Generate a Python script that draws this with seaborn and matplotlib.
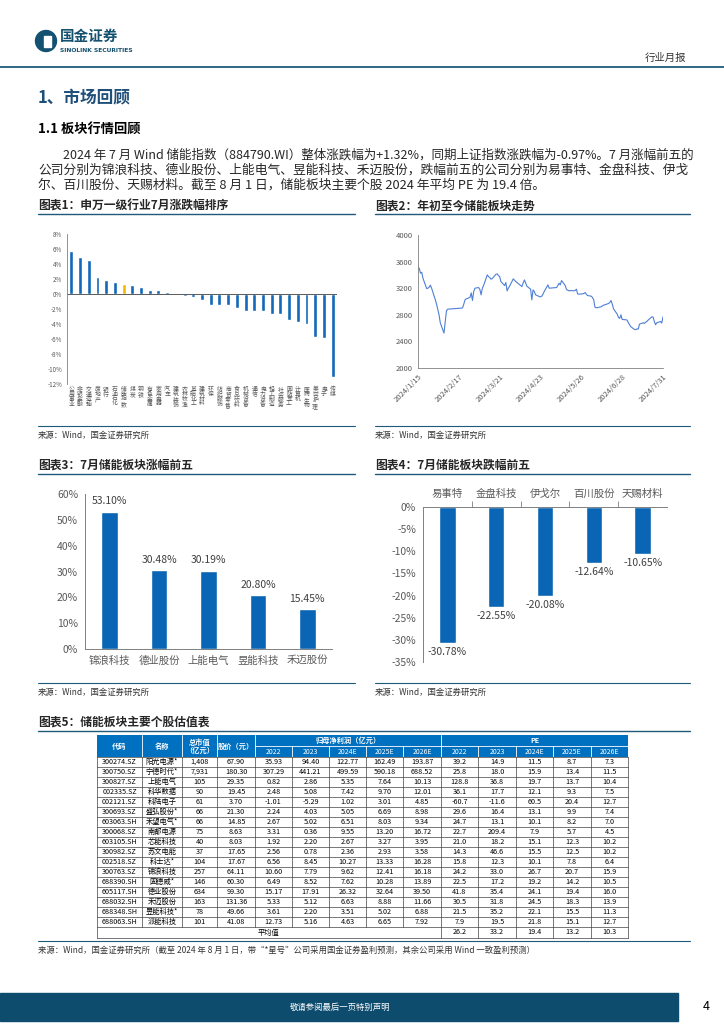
import numpy as np
import pandas as pd
import matplotlib
matplotlib.use("Agg")
import matplotlib.pyplot as plt
import seaborn as sns
from matplotlib.lines import Line2D
from matplotlib.patches import Rectangle, Ellipse

sns.set_style("white")
plt.rcParams['font.family'] = ['Noto Sans CJK SC', 'DejaVu Sans']
plt.rcParams['axes.unicode_minus'] = False

# ---------------- data ----------------
ind_names = ['公用事业', '非银金融', '交通运输', '房地产', '银行', '石油石化', '储能指数',
             '煤炭', '钢铁', '有色金属', '家用电器', '汽车', '建筑装饰', '农林牧渔',
             '基础化工', '建筑材料', '环保', '纺织服饰', '商贸零售', '食品饮料', '机械设备',
             '通信', '电力设备', '轻工制造', '社会服务', '国防军工', '计算机', '医药生物',
             '美容护理', '电子', '传媒']
ind_vals = [5.7, 5.0, 4.5, 2.3, 1.9, 1.6, 1.32, 1.2, 0.9, 0.6, 0.6, 0.3, 0.2, -0.3,
            -0.4, -0.8, -1.5, -1.5, -1.5, -1.8, -2.3, -2.3, -2.3, -2.6, -2.7, -3.4, -3.7,
            -4.0, -5.7, -5.9, -11.0]

idx_dates = ['2024-01-15', '2024-01-16', '2024-01-17', '2024-01-18', '2024-01-19', '2024-01-22',
             '2024-01-23', '2024-01-24', '2024-01-25', '2024-01-26', '2024-01-29', '2024-01-30',
             '2024-01-31', '2024-02-01', '2024-02-02', '2024-02-05', '2024-02-06', '2024-02-07',
             '2024-02-08', '2024-02-19', '2024-02-20', '2024-02-21', '2024-02-22', '2024-02-23',
             '2024-02-26', '2024-02-27', '2024-02-28', '2024-02-29', '2024-03-01', '2024-03-04',
             '2024-03-05', '2024-03-06', '2024-03-07', '2024-03-08', '2024-03-11', '2024-03-12',
             '2024-03-13', '2024-03-14', '2024-03-15', '2024-03-18', '2024-03-19', '2024-03-20',
             '2024-03-21', '2024-03-22', '2024-03-25', '2024-03-26', '2024-03-27', '2024-03-28',
             '2024-03-29', '2024-04-01', '2024-04-02', '2024-04-03', '2024-04-08', '2024-04-09',
             '2024-04-10', '2024-04-11', '2024-04-12', '2024-04-15', '2024-04-16', '2024-04-17',
             '2024-04-18', '2024-04-19', '2024-04-22', '2024-04-23', '2024-04-24', '2024-04-25',
             '2024-04-26', '2024-04-29', '2024-04-30', '2024-05-06', '2024-05-07', '2024-05-08',
             '2024-05-09', '2024-05-10', '2024-05-13', '2024-05-14', '2024-05-15', '2024-05-16',
             '2024-05-17', '2024-05-20', '2024-05-21', '2024-05-22', '2024-05-23', '2024-05-24',
             '2024-05-27', '2024-05-28', '2024-05-29', '2024-05-30', '2024-05-31', '2024-06-03',
             '2024-06-04', '2024-06-05', '2024-06-06', '2024-06-07', '2024-06-11', '2024-06-12',
             '2024-06-13', '2024-06-14', '2024-06-17', '2024-06-18', '2024-06-19', '2024-06-20',
             '2024-06-21', '2024-06-24', '2024-06-25', '2024-06-26', '2024-06-27', '2024-06-28',
             '2024-07-01', '2024-07-02', '2024-07-03', '2024-07-04', '2024-07-05', '2024-07-08',
             '2024-07-09', '2024-07-10', '2024-07-11', '2024-07-12', '2024-07-15', '2024-07-16',
             '2024-07-17', '2024-07-18', '2024-07-19', '2024-07-22', '2024-07-23', '2024-07-24',
             '2024-07-25', '2024-07-26', '2024-07-29', '2024-07-30', '2024-07-31']
idx_vals = [3510, 3500, 3425, 3440, 3350, 3195, 3200, 3215, 3245, 3200, 3025, 2960,
            2880, 2800, 2680, 2525, 2700, 2860, 2885, 2900, 2905, 2960, 3025, 3040,
            3060, 3130, 3015, 3150, 3200, 3210, 3180, 3100, 3200, 3240, 3400, 3375,
            3360, 3335, 3345, 3410, 3415, 3390, 3375, 3300, 3240, 3285, 3160, 3200,
            3230, 3340, 3320, 3300, 3225, 3280, 3325, 3280, 3230, 3185, 3025, 3175,
            3150, 3100, 3075, 3070, 3080, 3110, 3150, 3250, 3200, 3210, 3240, 3275,
            3250, 3315, 3240, 3180, 3170, 3160, 3165, 3160, 3165, 3185, 3115, 3110,
            3115, 3120, 3135, 3110, 3090, 3080, 3060, 3025, 2915, 2905, 2920, 2935,
            2945, 2950, 2970, 2985, 3015, 2960, 2890, 2810, 2760, 2745, 2800, 2730,
            2725, 2720, 2680, 2650, 2620, 2580, 2575, 2590, 2585, 2660, 2680, 2670,
            2690, 2700, 2720, 2770, 2765, 2700, 2650, 2680, 2700, 2675, 2770]
idx_ticks = ['2024-01-15', '2024-02-17', '2024-03-21', '2024-04-23', '2024-05-26',
             '2024-06-28', '2024-07-31']
idx_tick_labels = ['2024/1/15', '2024/2/17', '2024/3/21', '2024/4/23', '2024/5/26',
                   '2024/6/28', '2024/7/31']

up_names = ['锦浪科技', '德业股份', '上能电气', '昱能科技', '禾迈股份']
up_vals = [53.10, 30.48, 30.19, 20.80, 15.45]
down_names = ['易事特', '金盘科技', '伊戈尔', '百川股份', '天赐材料']
down_vals = [-30.78, -22.55, -20.08, -12.64, -10.65]

codes = ['300274.SZ', '300750.SZ', '300827.SZ', '002335.SZ', '002121.SZ', '300693.SZ',
         '603063.SH', '300068.SZ', '603105.SH', '300982.SZ', '002518.SZ', '300763.SZ',
         '688390.SH', '605117.SH', '688032.SH', '688348.SH', '688063.SH']
names = ['阳光电源*', '宁德时代*', '上能电气', '科华数据', '科陆电子', '盛弘股份*', '禾望电气*',
         '南都电源', '芯能科技', '苏文电能', '科士达*', '锦浪科技', '固德威*', '德业股份',
         '禾迈股份', '昱能科技*', '派能科技']
mktcap = ['1,408', '7,931', '105', '90', '61', '66', '66', '75', '40', '37', '104', '257',
          '146', '634', '163', '78', '101']
price = ['67.90', '180.30', '29.35', '19.45', '3.70', '21.30', '14.85', '8.63', '8.03',
         '17.65', '17.67', '64.11', '60.30', '99.30', '131.36', '49.66', '41.08']
profit = [
    ['35.93', '94.40', '122.77', '162.49', '193.87'],
    ['307.29', '441.21', '499.59', '590.18', '688.52'],
    ['0.82', '2.86', '5.35', '7.64', '10.13'],
    ['2.48', '5.08', '7.42', '9.70', '12.01'],
    ['-1.01', '-5.29', '1.02', '3.01', '4.85'],
    ['2.24', '4.03', '5.05', '6.69', '8.98'],
    ['2.67', '5.02', '6.51', '8.03', '9.34'],
    ['3.31', '0.36', '9.55', '13.20', '16.72'],
    ['1.92', '2.20', '2.67', '3.27', '3.95'],
    ['2.56', '0.78', '2.36', '2.93', '3.58'],
    ['6.56', '8.45', '10.27', '13.33', '16.28'],
    ['10.60', '7.79', '9.62', '12.41', '16.18'],
    ['6.49', '8.52', '7.62', '10.28', '13.89'],
    ['15.17', '17.91', '26.32', '32.64', '39.50'],
    ['5.33', '5.12', '6.63', '8.88', '11.66'],
    ['3.61', '2.20', '3.51', '5.02', '6.88'],
    ['12.73', '5.16', '4.63', '6.65', '7.92']]
pe = [
    ['39.2', '14.9', '11.5', '8.7', '7.3'],
    ['25.8', '18.0', '15.9', '13.4', '11.5'],
    ['128.8', '36.8', '19.7', '13.7', '10.4'],
    ['36.1', '17.7', '12.1', '9.3', '7.5'],
    ['-60.7', '-11.6', '60.5', '20.4', '12.7'],
    ['29.6', '16.4', '13.1', '9.9', '7.4'],
    ['24.7', '13.1', '10.1', '8.2', '7.0'],
    ['22.7', '209.4', '7.9', '5.7', '4.5'],
    ['21.0', '18.2', '15.1', '12.3', '10.2'],
    ['14.3', '46.6', '15.5', '12.5', '10.2'],
    ['15.8', '12.3', '10.1', '7.8', '6.4'],
    ['24.2', '33.0', '26.7', '20.7', '15.9'],
    ['22.5', '17.2', '19.2', '14.2', '10.5'],
    ['41.8', '35.4', '24.1', '19.4', '16.0'],
    ['30.5', '31.8', '24.5', '18.3', '13.9'],
    ['21.5', '35.2', '22.1', '15.5', '11.3'],
    ['7.9', '19.5', '21.8', '15.1', '12.7']]
pe_avg = ['26.2', '33.2', '19.4', '13.2', '10.3']
years = ['2022', '2023', '2024E', '2025E', '2026E']

# ---------------- layout helpers ----------------
W, H = 724, 1024
fig = plt.figure(figsize=(W / 100, H / 100), dpi=100)
TEAL = '#1f5a7a'
BLUE = '#0a66b4'
GRAY = '#595959'


def fx(x):
    return x / W


def fy(y):
    return 1 - y / H


def add_ax(x0, y0, x1, y1):
    return fig.add_axes([x0 / W, 1 - y1 / H, (x1 - x0) / W, (y1 - y0) / H])


def hline(x0, x1, y, color=TEAL, lw=1.0):
    fig.add_artist(Line2D([fx(x0), fx(x1)], [fy(y), fy(y)], transform=fig.transFigure,
                          color=color, lw=lw))


def txt(x, y, s, **kw):
    kw.setdefault('va', 'center')
    fig.text(fx(x), fy(y), s, **kw)


# ---------------- header ----------------
fig.add_artist(Ellipse((fx(46), fy(41)), 21 / W, 21 / H, transform=fig.transFigure,
                       color='#14506f'))
fig.add_artist(Rectangle((fx(44), fy(47)), 7 / W, 11 / H, transform=fig.transFigure,
                         color='white'))
txt(60, 36, '国金证券', fontsize=10.5, fontweight='bold', color='#14506f')
txt(60, 51, 'SINOLINK SECURITIES', fontsize=4.3, fontweight='bold', color='#14506f',
    family=['DejaVu Sans'])
txt(686, 58, '行业月报', fontsize=7.5, color='#333333', ha='right')
hline(0, 724, 67, color=TEAL, lw=1.3)

txt(38, 98, '1、市场回顾', fontsize=12, fontweight='bold', color='#1f4e79')
txt(38, 130, '1.1 板块行情回顾', fontsize=9.5, fontweight='bold', color='black')
para = ['2024 年 7 月 Wind 储能指数（884790.WI）整体涨跌幅为+1.32%，同期上证指数涨跌幅为-0.97%。7 月涨幅前五的',
        '公司分别为锦浪科技、德业股份、上能电气、昱能科技、禾迈股份，跌幅前五的公司分别为易事特、金盘科技、伊戈',
        '尔、百川股份、天赐材料。截至 8 月 1 日，储能板块主要个股 2024 年平均 PE 为 19.4 倍。']
txt(63, 155, para[0], fontsize=9.0)
txt(38, 170, para[1], fontsize=9.2)
txt(38, 185, para[2], fontsize=9.2)

# chart titles / rules / sources
txt(38, 206, '图表1：申万一级行业7月涨跌幅排序', fontsize=8.5, fontweight='bold')
txt(375, 206, '图表2：年初至今储能板块走势', fontsize=8.5, fontweight='bold')
hline(38, 355, 214)
hline(375, 690, 214)
hline(38, 355, 426, lw=0.8)
hline(375, 690, 426, lw=0.8)
txt(38, 435, '来源：Wind，国金证券研究所', fontsize=6, color='#333333')
txt(375, 435, '来源：Wind，国金证券研究所', fontsize=6, color='#333333')

txt(38, 465, '图表3：7月储能板块涨幅前五', fontsize=8.5, fontweight='bold')
txt(375, 465, '图表4：7月储能板块跌幅前五', fontsize=8.5, fontweight='bold')
hline(38, 355, 474)
hline(375, 690, 474)
hline(38, 355, 683, lw=0.8)
hline(375, 690, 683, lw=0.8)
txt(38, 692, '来源：Wind，国金证券研究所', fontsize=6, color='#333333')
txt(375, 692, '来源：Wind，国金证券研究所', fontsize=6, color='#333333')

txt(38, 722, '图表5：储能板块主要个股估值表', fontsize=8.5, fontweight='bold')
hline(38, 690, 731)
hline(38, 690, 941, lw=0.8)
txt(38, 950, '来源：Wind，国金证券研究所（截至 2024 年 8 月 1 日，带“*星号”公司采用国金证券盈利预测，其余公司采用 Wind 一致盈利预测）',
    fontsize=6, color='#333333')

# footer
fig.add_artist(Rectangle((0, fy(1021)), fx(678), 28 / H, transform=fig.transFigure,
                         color='#0e4c6e'))
txt(340, 1007, '敬请参阅最后一页特别声明', fontsize=6, color='white', ha='center')
txt(706, 1006, '4', fontsize=9, color='black', ha='center')

# ---------------- chart 1 ----------------
ax1 = add_ax(67, 234, 337, 384)
colors1 = ['#f5b800' if n == '储能指数' else '#1167b8' for n in ind_names]
sns.barplot(x=ind_names, y=ind_vals, hue=ind_names, palette=colors1, legend=False,
            width=0.45, saturation=1, ax=ax1)
ax1.set_xlim(-0.5, len(ind_names) - 0.5)
ax1.set_ylim(-12, 8)
ax1.set_yticks(range(-12, 9, 2))
ax1.set_yticklabels([f'{v}%' for v in range(-12, 9, 2)], fontsize=4.5, color=GRAY)
ax1.set_xticks(range(len(ind_names)))
ax1.set_xticklabels(['\n'.join(n) for n in ind_names], fontsize=4.2, color=GRAY,
                    linespacing=0.95, va='top')
ax1.tick_params(axis='x', length=0, pad=2)
ax1.tick_params(axis='y', length=2, width=0.5, color='#808080', pad=1.5)
ax1.axhline(0, color='#404040', lw=0.6)
for s in ['top', 'right', 'bottom']:
    ax1.spines[s].set_visible(False)
ax1.spines['left'].set_color('#808080')
ax1.spines['left'].set_linewidth(0.6)
ax1.set_xlabel('')
ax1.set_ylabel('')

# ---------------- chart 2 ----------------
ax2 = add_ax(418, 235, 663, 368)
sns.lineplot(x=pd.to_datetime(idx_dates), y=idx_vals, color='#4f7fd6', lw=0.8, ax=ax2)
ax2.set_xlim(pd.Timestamp('2024-01-15'), pd.Timestamp('2024-07-31'))
ax2.set_ylim(2000, 4000)
ax2.set_yticks(range(2000, 4001, 400))
ax2.set_yticklabels([str(v) for v in range(2000, 4001, 400)], fontsize=5.5, color=GRAY)
ax2.set_xticks(pd.to_datetime(idx_ticks))
ax2.set_xticklabels(idx_tick_labels, fontsize=5.5, color=GRAY, rotation=45, ha='right',
                    rotation_mode='anchor')
ax2.tick_params(length=2, width=0.5, color='#808080', pad=1.5)
ax2.set_xlabel('')
ax2.set_ylabel('')
for s in ['top', 'right']:
    ax2.spines[s].set_visible(False)
for s in ['left', 'bottom']:
    ax2.spines[s].set_color('#808080')
    ax2.spines[s].set_linewidth(0.6)

# ---------------- chart 3 ----------------
ax3 = add_ax(85, 494, 332, 649)
sns.barplot(x=up_names, y=up_vals, color=BLUE, width=0.34, saturation=1, ax=ax3)
ax3.bar_label(ax3.containers[0], labels=[f'{v:.2f}%' for v in up_vals], padding=4,
              fontsize=7.5, color='#404040')
ax3.set_xlim(-0.5, 4.5)
ax3.set_ylim(0, 60)
ax3.set_yticks(range(0, 61, 10))
ax3.set_yticklabels([f'{v}%' for v in range(0, 61, 10)], fontsize=7.5, color=GRAY)
ax3.tick_params(axis='x', length=0, labelsize=7.5, labelcolor=GRAY, pad=5)
ax3.set_xticks(np.arange(0.5, 4.5, 1), minor=True)
ax3.tick_params(axis='x', which='minor', length=4, width=0.6, color='#808080')
ax3.tick_params(axis='y', length=3, width=0.6, color='#808080', pad=2)
for s in ['top', 'right']:
    ax3.spines[s].set_visible(False)
for s in ['left', 'bottom']:
    ax3.spines[s].set_color('#808080')
    ax3.spines[s].set_linewidth(0.7)

# ---------------- chart 4 ----------------
ax4 = add_ax(423, 507, 667, 662)
sns.barplot(x=down_names, y=down_vals, color=BLUE, width=0.34, saturation=1, ax=ax4)
ax4.bar_label(ax4.containers[0], labels=[f'{v:.2f}%' for v in down_vals], padding=3,
              fontsize=7.5, color='#404040')
ax4.set_xlim(-0.5, 4.5)
ax4.set_ylim(-35, 0)
ax4.set_yticks(range(-35, 1, 5))
ax4.set_yticklabels([f'{v}%' for v in range(-35, 1, 5)], fontsize=7.5, color=GRAY)
ax4.xaxis.tick_top()
ax4.tick_params(axis='x', length=0, labelsize=7.5, labelcolor=GRAY, pad=6)
ax4.set_xticks(np.arange(0.5, 4.5, 1), minor=True)
ax4.tick_params(axis='x', which='minor', length=4, width=0.6, color='#808080', top=True,
                bottom=False)
ax4.tick_params(axis='y', length=3, width=0.6, color='#808080', pad=2)
for s in ['bottom', 'right']:
    ax4.spines[s].set_visible(False)
for s in ['left', 'top']:
    ax4.spines[s].set_color('#808080')
    ax4.spines[s].set_linewidth(0.7)

# ---------------- table ----------------
ax5 = add_ax(0, 0, W, H)
ax5.set_xlim(0, W)
ax5.set_ylim(H, 0)
ax5.axis('off')
edges = [97, 142, 182, 217, 255, 292, 329, 366, 403, 441, 478, 516, 553, 591, 628]
hdr_top, hdr_mid, hdr_bot = 735, 746, 757
row_h = 10
HBLUE = '#0070c0'
ax5.add_patch(Rectangle((edges[0], hdr_top), edges[-1] - edges[0], hdr_bot - hdr_top,
                        color=HBLUE, lw=0))
# header separators
for e in edges[1:5]:
    ax5.plot([e, e], [hdr_top, hdr_bot], color='white', lw=0.6)
for e in edges[5:9] + edges[10:14]:
    ax5.plot([e, e], [hdr_mid, hdr_bot], color='white', lw=0.6)
ax5.plot([edges[9], edges[9]], [hdr_top, hdr_bot], color='white', lw=0.6)
ax5.plot([edges[4], edges[-1]], [hdr_mid, hdr_mid], color='white', lw=0.6)

hkw = dict(ha='center', va='center', color='white', fontsize=5.2, fontweight='bold')
ax5.text((edges[0] + edges[1]) / 2, (hdr_top + hdr_bot) / 2, '代码', **hkw)
ax5.text((edges[1] + edges[2]) / 2, (hdr_top + hdr_bot) / 2, '名称', **hkw)
ax5.text((edges[2] + edges[3]) / 2, (hdr_top + hdr_bot) / 2, '总市值\n（亿元）',
         linespacing=1.1, **hkw)
ax5.text((edges[3] + edges[4]) / 2, (hdr_top + hdr_bot) / 2, '股价（元）', **hkw)
ax5.text((edges[4] + edges[9]) / 2, (hdr_top + hdr_mid) / 2, '归母净利润（亿元）', **hkw)
ax5.text((edges[9] + edges[14]) / 2, (hdr_top + hdr_mid) / 2, 'PE', **hkw)
for k in range(5):
    ax5.text((edges[4 + k] + edges[5 + k]) / 2, (hdr_mid + hdr_bot) / 2, years[k],
             ha='center', va='center', color='white', fontsize=5)
    ax5.text((edges[9 + k] + edges[10 + k]) / 2, (hdr_mid + hdr_bot) / 2, years[k],
             ha='center', va='center', color='white', fontsize=5)

dkw = dict(ha='center', va='center', color='black', fontsize=5.2)
n = len(codes)
for r in range(n):
    yc = hdr_bot + row_h * (r + 0.5)
    cells = [codes[r], names[r], mktcap[r], price[r]] + profit[r] + pe[r]
    for c, val in enumerate(cells):
        ax5.text((edges[c] + edges[c + 1]) / 2, yc, val, **dkw)
avg_top = hdr_bot + row_h * n
avg_bot = avg_top + 11
ax5.text((edges[0] + edges[9]) / 2, (avg_top + avg_bot) / 2, '平均值', **dkw)
for k in range(5):
    ax5.text((edges[9 + k] + edges[10 + k]) / 2, (avg_top + avg_bot) / 2, pe_avg[k], **dkw)

# grid
for r in range(n + 2):
    yy = hdr_bot + row_h * r if r <= n else avg_bot
    ax5.plot([edges[0], edges[-1]], [yy, yy], color='#404040', lw=0.5)
for i, e in enumerate(edges):
    if 0 < i < 9:
        ax5.plot([e, e], [hdr_bot, avg_top], color='#404040', lw=0.5)
    else:
        ax5.plot([e, e], [hdr_bot, avg_bot], color='#404040', lw=0.5)

fig.savefig('out.png', dpi=100)
